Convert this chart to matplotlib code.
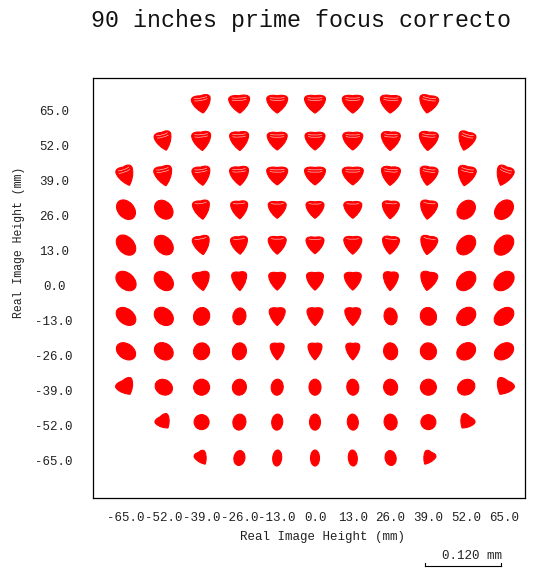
import matplotlib
matplotlib.use("Agg")
import matplotlib.pyplot as plt
from matplotlib.path import Path
from matplotlib.patches import PathPatch
from matplotlib.lines import Line2D
from matplotlib.transforms import Affine2D, ScaledTranslation

# ---------------- data ----------------
title = "90 inches prime focus correcto"
axis_label = "Real Image Height (mm)"
tick_values = [-65.0, -52.0, -39.0, -26.0, -13.0, 0.0, 13.0, 26.0, 39.0, 52.0, 65.0]
tick_labels = ["-65.0", "-52.0", "-39.0", "-26.0", "-13.0", "0.0",
               "13.0", "26.0", "39.0", "52.0", "65.0"]
field_rows_y = [65.0, 52.0, 39.0, 26.0, 13.0, 0.0, -13.0, -26.0, -39.0, -52.0, -65.0]
field_rows_x = [
    [-39.0, -26.0, -13.0, 0.0, 13.0, 26.0, 39.0],
    [-52.0, -39.0, -26.0, -13.0, 0.0, 13.0, 26.0, 39.0, 52.0],
    [-65.0, -52.0, -39.0, -26.0, -13.0, 0.0, 13.0, 26.0, 39.0, 52.0, 65.0],
    [-65.0, -52.0, -39.0, -26.0, -13.0, 0.0, 13.0, 26.0, 39.0, 52.0, 65.0],
    [-65.0, -52.0, -39.0, -26.0, -13.0, 0.0, 13.0, 26.0, 39.0, 52.0, 65.0],
    [-65.0, -52.0, -39.0, -26.0, -13.0, 0.0, 13.0, 26.0, 39.0, 52.0, 65.0],
    [-65.0, -52.0, -39.0, -26.0, -13.0, 0.0, 13.0, 26.0, 39.0, 52.0, 65.0],
    [-65.0, -52.0, -39.0, -26.0, -13.0, 0.0, 13.0, 26.0, 39.0, 52.0, 65.0],
    [-65.0, -52.0, -39.0, -26.0, -13.0, 0.0, 13.0, 26.0, 39.0, 52.0, 65.0],
    [-52.0, -39.0, -26.0, -13.0, 0.0, 13.0, 26.0, 39.0, 52.0],
    [-39.0, -26.0, -13.0, 0.0, 13.0, 26.0, 39.0],
]
scale_bar_label = "0.120 mm"

# ---------------- styles (spot shapes, in pixels) ----------------
# per row: shapes from the leftmost spot up to the centre (x = 0); right side mirrored
# (kind, width_px, height_px, angle_deg); H = comatic heart, E = ellipse
spot_shapes_left = [
    [("H", 19, 18, 10), ("H", 21, 18, 3), ("H", 21, 18, 0), ("H", 21, 18, 0)],
    [("H", 17, 19, 15), ("H", 19, 19, 5), ("H", 19, 19, 3), ("H", 20, 18, 0), ("H", 20, 18, 0)],
    [("H", 17, 20, 20), ("H", 18, 20, 12), ("H", 18, 19, 8), ("H", 19, 19, 4), ("H", 21, 18, 0), ("H", 21, 18, 0)],
    [("E", 22, 16, -48), ("E", 21, 16, -48), ("H", 17, 19, 8), ("H", 17, 18, 3), ("H", 18, 17, 0), ("H", 18, 17, 0)],
    [("E", 23, 16, -48), ("E", 22, 16, -48), ("H", 17, 19, 10), ("H", 17, 18, 5), ("H", 18, 18, 0), ("H", 18, 17, 0)],
    [("E", 23, 16, -42), ("E", 22, 16, -45), ("H", 17, 19, 10), ("H", 15, 19, 3), ("H", 17, 18, 0), ("H", 17, 18, 0)],
    [("E", 22, 15, -38), ("E", 21, 16, -40), ("E", 16, 18, -20), ("E", 13, 17, -10), ("H", 16, 18, 0), ("H", 16, 18, 0)],
    [("E", 21, 15, -35), ("E", 20, 16, -35), ("E", 16, 17, -20), ("E", 14, 17, -10), ("H", 14, 17, 0), ("H", 14, 17, 0)],
    [("H", 18, 16, 30), ("E", 18, 15, -30), ("E", 16, 16, 0), ("E", 14, 16, -10), ("E", 12, 16, -5), ("E", 12, 16, 0)],
    [("H", 15, 14, 35), ("E", 15, 15, 0), ("E", 13, 16, -10), ("E", 11, 16, -5), ("E", 11, 16, 0)],
    [("H", 12, 14, 30), ("E", 11, 15, -10), ("E", 9, 16, -5), ("E", 9, 16, 0)],
]
row_lift_px = [7, 5, 5, 6, 5.5, 4.5, 4, 4, 3, 3, 2]
row_arcs = [2, 2, 2, 1, 1, 0, 0, 0, 0, 0, 0]
SPOT_COLOR = "#ff0000"
FONT = "Liberation Mono"

# ---------------- shapes ----------------
heart_verts = [
    (0.0, -1.0),
    (-0.3, -0.8), (-0.95, -0.15), (-1.0, 0.55),
    (-1.0, 1.0), (-0.35, 1.0), (0.0, 0.9),
    (0.35, 1.0), (1.0, 1.0), (1.0, 0.55),
    (0.95, -0.15), (0.3, -0.8), (0.0, -1.0),
    (0.0, -1.0),
]
heart_codes = [Path.MOVETO] + [Path.CURVE4] * 12 + [Path.CLOSEPOLY]
HEART = Path(heart_verts, heart_codes)
CIRCLE = Path.unit_circle()

def arc_path(level):
    y0 = 0.72 - 0.25 * level
    return Path([(-0.7, y0), (0.0, y0 - 0.18), (0.7, y0)],
                [Path.MOVETO, Path.CURVE3, Path.CURVE3])

# ---------------- figure ----------------
W, H = 540, 571
fig = plt.figure(figsize=(W / 100, H / 100), dpi=100)
ax = fig.add_axes([93 / W, 1 - 498 / H, (525 - 93) / W, (498 - 78) / H])
ax.set_xlim(-76.35, 72.22)
ax.set_ylim(-79.15, 77.29)
for s in ax.spines.values():
    s.set_linewidth(0.9)
    s.set_color("black")

ax.set_xticks(tick_values)
ax.set_xticklabels(tick_labels, fontfamily=FONT, fontsize=9, color="#222222")
ax.set_yticks(tick_values)
ax.set_yticklabels(tick_labels, fontfamily=FONT, fontsize=9, color="#222222", ha="center")
ax.tick_params(axis="x", length=0, pad=10)
ax.tick_params(axis="y", length=0, pad=28)

for ri, (fy, xs) in enumerate(zip(field_rows_y, field_rows_x)):
    left = spot_shapes_left[ri]
    shapes = left + [(k, w, h, -a) for (k, w, h, a) in reversed(left[:-1])]
    for fx, (kind, w, h, ang) in zip(xs, shapes):
        sy = h / 1.97 if kind == "H" else h / 2
        base = Affine2D().scale(w / 2, sy).rotate_deg(ang).translate(0, row_lift_px[ri])
        trans = base + ScaledTranslation(fx, fy, ax.transData)
        path = HEART if kind == "H" else CIRCLE
        ax.add_patch(PathPatch(path, transform=trans, facecolor=SPOT_COLOR,
                               edgecolor=SPOT_COLOR, linewidth=0.8, clip_on=False))
        if kind == "H":
            for lv in range(row_arcs[ri]):
                ax.add_patch(PathPatch(arc_path(lv), transform=trans, facecolor="none",
                                       edgecolor="#ffd0d0", linewidth=0.45, clip_on=False))

fig.text(91 / W, 1 - 21 / H, title, ha="left", va="center",
         fontfamily=FONT, fontsize=16.75, color="#111111")
fig.text(322 / W, 1 - 537 / H, axis_label, ha="center", va="center",
         fontfamily=FONT, fontsize=9, color="#222222")
fig.text(19 / W, 1 - 242.5 / H, axis_label, ha="center", va="center", rotation=90,
         fontfamily=FONT, fontsize=8.3, color="#222222")

# scale bar
bx0, bx1, by = 425, 501, 566
fig.add_artist(Line2D([bx0 / W, bx1 / W], [1 - by / H, 1 - by / H], color="black", lw=0.8))
for bx in (bx0, bx1):
    fig.add_artist(Line2D([bx / W, bx / W], [1 - by / H, 1 - (by - 3) / H], color="black", lw=0.8))
fig.text(502 / W, 1 - 556 / H, scale_bar_label, ha="right", va="center",
         fontfamily=FONT, fontsize=9, color="#222222")

fig.savefig("out.png", dpi=100)
